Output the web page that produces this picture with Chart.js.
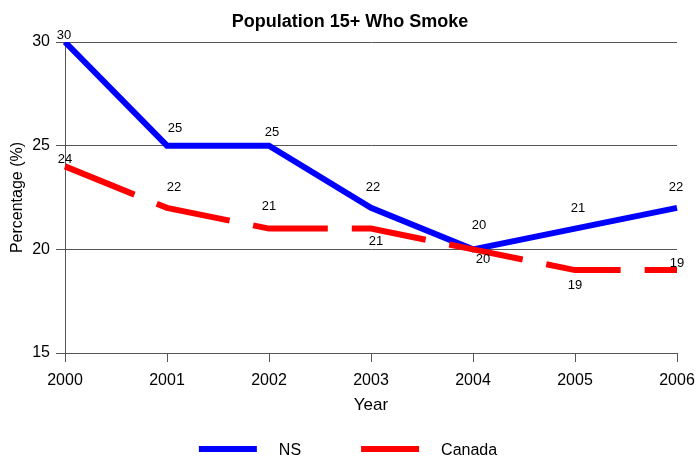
<!DOCTYPE html>
<html>
<head>
<meta charset="utf-8">
<script src="https://cdn.jsdelivr.net/npm/chart.js@4"></script>
<style>
  html, body { margin: 0; padding: 0; background: #fff; }
  canvas { display: block; }
</style>
</head>
<body>
<canvas id="smokeChart" width="696" height="456"></canvas>
<script>
// Survey years and share of the population aged 15+ who smoke (%)
const years = ['2000', '2001', '2002', '2003', '2004', '2005', '2006'];
const nsValues = [30, 25, 25, 22, 20, 21, 22];
const canadaValues = [24, 22, 21, 21, 20, 19, 19];
const yTicks = [15, 20, 25, 30];

const FONT = '"Liberation Sans", Arial, Helvetica, sans-serif';
Chart.defaults.font.family = FONT;
Chart.defaults.color = '#000';

// Value label nudges (px) relative to each point, so labels sit clear of the lines
const nsLabelShift = [[-1, -8], [8, -18], [3, -14], [2, -22], [6, -25], [3, -21], [-1, -22]];
const canadaLabelShift = [[0, -8], [7, -22], [0, -23], [5, 12], [10, 9], [0, 14], [0, -8]];

// Chart heading, centred on the canvas
const headingPlugin = {
  id: 'heading',
  afterDraw(chart, args, opts) {
    const ctx = chart.ctx;
    ctx.save();
    ctx.font = 'bold 18px ' + FONT;
    ctx.fillStyle = '#000';
    ctx.textAlign = 'center';
    ctx.textBaseline = 'alphabetic';
    ctx.fillText(opts.text, chart.width / 2 + 2, 27);
    ctx.restore();
  }
};

// Numeric labels next to every point
const valueLabelPlugin = {
  id: 'valueLabels',
  afterDatasetsDraw(chart) {
    const ctx = chart.ctx;
    ctx.save();
    ctx.font = '13px ' + FONT;
    ctx.fillStyle = '#000';
    ctx.textAlign = 'center';
    ctx.textBaseline = 'alphabetic';
    chart.data.datasets.forEach((ds, i) => {
      const meta = chart.getDatasetMeta(i);
      meta.data.forEach((pt, j) => {
        const [dx, dy] = ds.labelShift[j];
        ctx.fillText(String(ds.data[j]), pt.x + dx, pt.y + dy + 4.7);
      });
    });
    ctx.restore();
  }
};

// Horizontal legend along the bottom with solid line samples
const bottomLegendPlugin = {
  id: 'bottomLegend',
  afterDraw(chart) {
    const ctx = chart.ctx;
    const sampleW = 58, gap = 22, itemGap = 60;
    ctx.save();
    ctx.font = '16px ' + FONT;
    const items = chart.data.datasets.map(ds => ({
      text: ds.label, color: ds.borderColor, w: ctx.measureText(ds.label).width
    }));
    let total = 0;
    items.forEach((it, k) => { total += sampleW + gap + it.w + (k < items.length - 1 ? itemGap : 0); });
    let x = chart.width / 2 - total / 2;
    const yMid = 449;
    items.forEach(it => {
      ctx.fillStyle = it.color;
      ctx.fillRect(x, yMid - 3, sampleW, 6);
      ctx.fillStyle = '#000';
      ctx.textAlign = 'left';
      ctx.textBaseline = 'alphabetic';
      ctx.fillText(it.text, x + sampleW + gap, yMid + 6);
      x += sampleW + gap + it.w + itemGap;
    });
    ctx.restore();
  }
};

new Chart(document.getElementById('smokeChart'), {
  type: 'line',
  data: {
    labels: years,
    datasets: [
      {
        label: 'NS',
        data: nsValues,
        borderColor: '#0000FF',
        borderWidth: 6,
        pointRadius: 0,
        tension: 0,
        borderJoinStyle: 'miter',
        borderCapStyle: 'butt',
        order: 2,
        labelShift: nsLabelShift
      },
      {
        label: 'Canada',
        data: canadaValues,
        borderColor: '#FF0000',
        borderWidth: 6,
        borderDash: [75, 24],
        pointRadius: 0,
        tension: 0,
        borderJoinStyle: 'miter',
        borderCapStyle: 'butt',
        order: 1,
        labelShift: canadaLabelShift
      }
    ]
  },
  options: {
    responsive: false,
    animation: false,
    events: [],
    layout: { padding: { top: 42, left: 0, right: 19, bottom: 39 } },
    plugins: {
      legend: { display: false },
      title: { display: false },
      tooltip: { enabled: false },
      heading: { text: 'Population 15+ Who Smoke' }
    },
    scales: {
      x: {
        type: 'category',
        offset: false,
        grid: { drawOnChartArea: false, drawTicks: true, tickLength: 9, color: '#555' },
        border: { color: '#555' },
        ticks: { font: { size: 16 }, padding: 9, maxRotation: 0, color: '#000' },
        title: { display: true, text: 'Year', font: { size: 17 }, color: '#000', padding: { top: 4, bottom: 1 } },
        afterFit(scale) {
          scale.height = 64;
          scale.paddingLeft = 0;
          scale.paddingRight = 0;
        }
      },
      y: {
        min: yTicks[0],
        max: yTicks[yTicks.length - 1],
        afterBuildTicks(scale) { scale.ticks = yTicks.map(v => ({ value: v })); },
        grid: { color: '#555', tickLength: 9, drawTicks: true },
        border: { color: '#555' },
        ticks: { font: { size: 16 }, padding: 6, color: '#000' },
        title: { display: true, text: 'Percentage (%)', font: { size: 16 }, color: '#000', padding: { top: 8, bottom: 0 } },
        afterFit(scale) { scale.width = 65; }
      }
    }
  },
  plugins: [headingPlugin, valueLabelPlugin, bottomLegendPlugin]
});
</script>
</body>
</html>
